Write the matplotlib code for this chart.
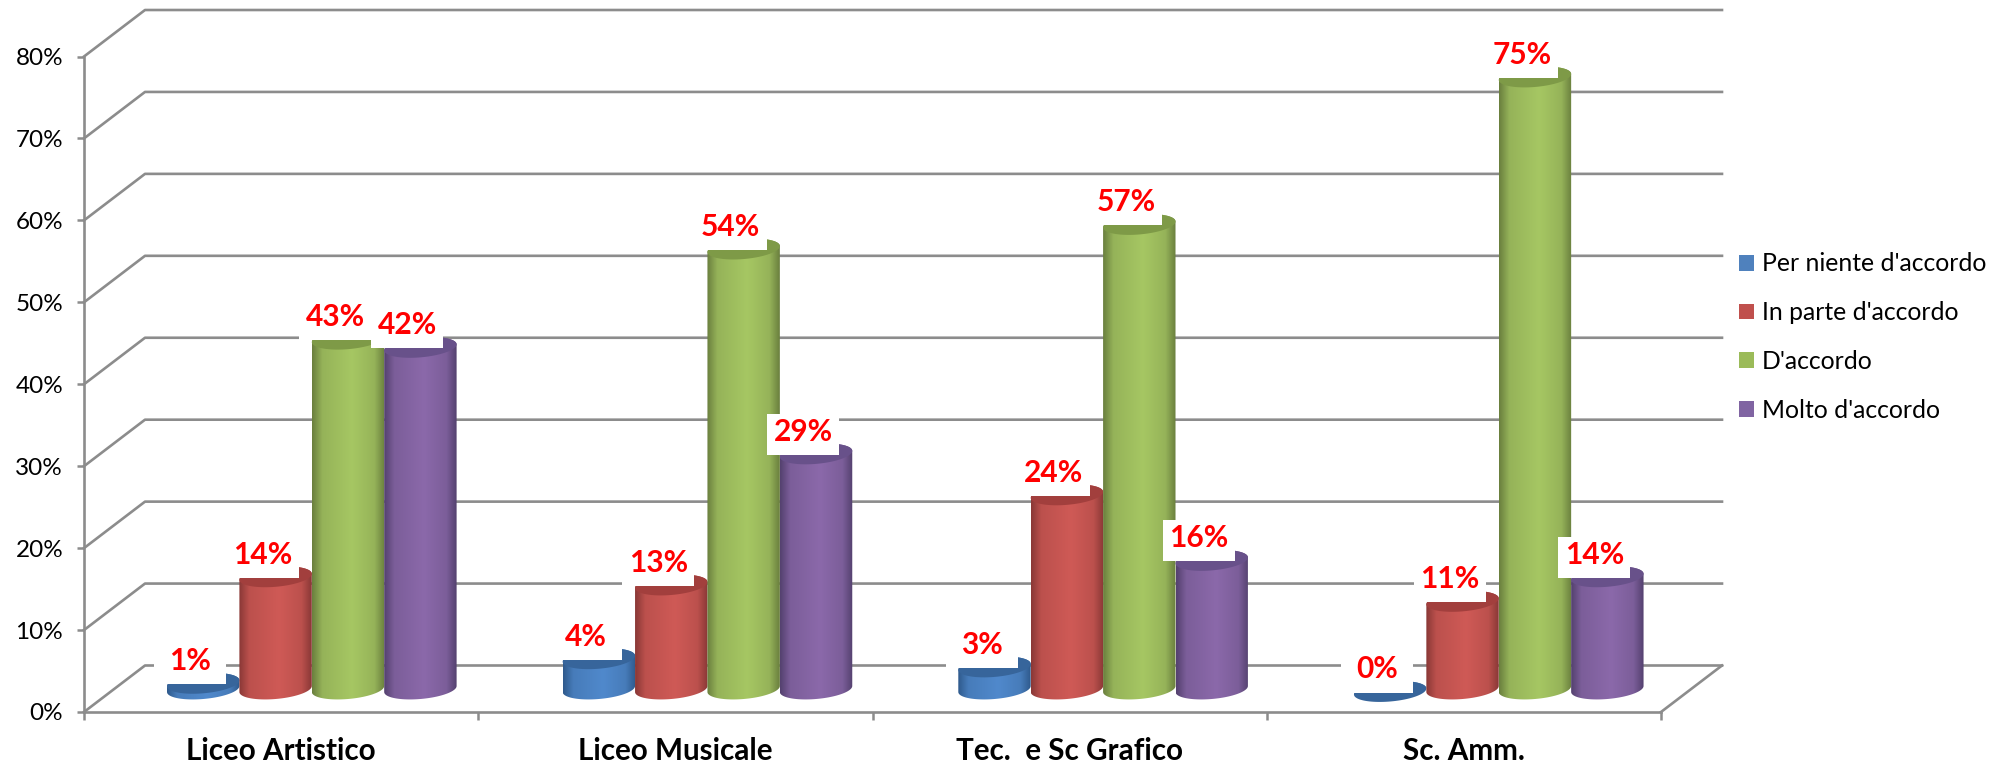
import numpy as np
import matplotlib
matplotlib.use('Agg')
import matplotlib.pyplot as plt
from matplotlib.patches import Patch, PathPatch, Polygon, Rectangle
from matplotlib.path import Path

categories = ['Liceo Artistico', 'Liceo Musicale', 'Tec.  e Sc Grafico', 'Sc. Amm.']
series_names = ["Per niente d'accordo", "In parte d'accordo", "D'accordo", "Molto d'accordo"]
per_niente = [1, 4, 3, 0]
in_parte = [14, 13, 24, 11]
d_accordo = [43, 54, 57, 75]
molto = [42, 29, 16, 14]
y_ticks = [0, 10, 20, 30, 40, 50, 60, 70, 80]

# flat, edge, centre, cap colours of each series
flat_cols = ['#4F81BD', '#C0504D', '#9BBB59', '#8064A2']
edge_cols = ['#2F5A8C', '#8A3836', '#6A7F3E', '#54416F']
mid_cols = ['#5089CC', '#CF5A56', '#A6C763', '#8B69AA']
cap_cols = ['#37659B', '#A23F3D', '#7E9A47', '#68518A']
grid_col = '#8C8C8C'

plt.rcParams['font.family'] = ['Lato', 'DejaVu Sans']

W, H = 2004, 770
X0, Y0, AX_W, AX_H = 84, 58, 1577, 655.5
PX = 4 / AX_W         # data x per pixel
PY = 80 / AX_H        # data y per pixel
DEPTH_X, DEPTH_Y = 61 * PX, 46.5 * PY
BAR_W = 72.4 * PX
GROUP_OFF = 83 * PX
GROUP_EXTRA = 1.4 * PX
BASE_Y = 23 * PY
TOP_Y = 20.5 * PY
TILT, RY = 3 * PY, 10 * PY


def ell(xc, yc, t):
    return np.column_stack([xc + BAR_W / 2 * np.cos(t), yc + TILT * np.cos(t) + RY * np.sin(t)])


def rgb(c):
    return np.array(matplotlib.colors.to_rgb(c))


def cylinder(ax, left, val, i, z):
    xc = left + BAR_W / 2
    top = TOP_Y + val
    lower = ell(xc, BASE_Y, np.linspace(np.pi, 2 * np.pi, 60))
    upper = ell(xc, top, np.linspace(0, np.pi, 60))
    body = PathPatch(Path(np.vstack([lower, upper, lower[:1]]), closed=False), fc='none', ec='none', zorder=z)
    ax.add_patch(body)
    s = np.linspace(0, 1, 128)
    k = np.interp(s, [0, 0.14, 0.55, 0.86, 1], [0, 0.72, 1, 0.72, 0])[None, :, None]
    img = rgb(edge_cols[i]) + (rgb(mid_cols[i]) - rgb(edge_cols[i])) * k
    im = ax.imshow(img, extent=[left, left + BAR_W, BASE_Y - 2 * RY, top + 2 * RY],
                   aspect='auto', zorder=z, interpolation='bilinear')
    im.set_clip_path(body)
    cap = ell(xc, top, np.linspace(0, 2 * np.pi, 90))
    ax.add_patch(Polygon(cap, closed=True, fc=cap_cols[i], ec='none', zorder=z + 0.1, clip_on=False))


fig = plt.figure(figsize=(W / 100, H / 100), dpi=100)
ax = fig.add_axes([X0 / W, Y0 / H, AX_W / W, AX_H / H])

# back wall and floor
for v in y_ticks:
    ax.plot([0, DEPTH_X, 4 + DEPTH_X], [v, v + DEPTH_Y, v + DEPTH_Y], color=grid_col, lw=1.9, clip_on=False, zorder=1)
ax.plot([4, 4 + DEPTH_X], [0, DEPTH_Y], color=grid_col, lw=1.9, clip_on=False, zorder=1)

all_series = [per_niente, in_parte, d_accordo, molto]
z = 3
for g in range(len(categories)):
    for i, vals in enumerate(all_series):
        cylinder(ax, g + GROUP_OFF + g * GROUP_EXTRA + i * BAR_W, vals[g], i, z)
        z += 1

# labels sit above every bar, each on its own white box
for g in range(len(categories)):
    for i, vals in enumerate(all_series):
        cx = g + GROUP_OFF + g * GROUP_EXTRA + (i + 0.5) * BAR_W - 13 * PX
        cy = TOP_Y + vals[g] + 22 * PY
        ax.add_patch(Rectangle((cx - 36 * PX, cy - 23 * PY), 72 * PX, 41 * PY, fc='white', ec='none',
                               zorder=100 + g * 4 + i, clip_on=False))
        ax.text(cx, cy, f'{vals[g]}%', color='#FF0000', fontsize=21.5, fontweight='bold', ha='center',
                va='center', zorder=100.5 + g * 4 + i, clip_on=False)

ax.set_xlim(0, 4)
ax.set_ylim(0, 80)
ax.set_yticks(y_ticks)
ax.set_yticklabels([f'{v}%' for v in y_ticks], fontsize=17.5, color='black')
ax.set_xticks(range(5))
ax.set_xticklabels([])
ax.set_xticks(np.arange(4) + 0.5, minor=True)
ax.set_xticklabels(categories, minor=True, fontsize=21.3, fontweight='bold')
ax.tick_params(axis='y', length=5, width=1.8, color=grid_col, pad=10)
ax.tick_params(axis='x', which='major', length=6, width=1.8, color=grid_col)
ax.tick_params(axis='x', which='minor', length=0, pad=18)
for side in ['top', 'right']:
    ax.spines[side].set_visible(False)
for side in ['left', 'bottom']:
    ax.spines[side].set_color(grid_col)
    ax.spines[side].set_linewidth(1.9)
ax.patch.set_alpha(0)

handles = [Patch(fc=c, ec='none') for c in flat_cols]
fig.legend(handles, series_names, loc='center left', bbox_to_anchor=(1739 / W, 1 - 337 / H), frameon=False,
           fontsize=17.8, handlelength=0.6, handleheight=0.6, handletextpad=0.32, labelspacing=1.04,
           borderpad=0, borderaxespad=0)

fig.savefig('out.png', dpi=100)
